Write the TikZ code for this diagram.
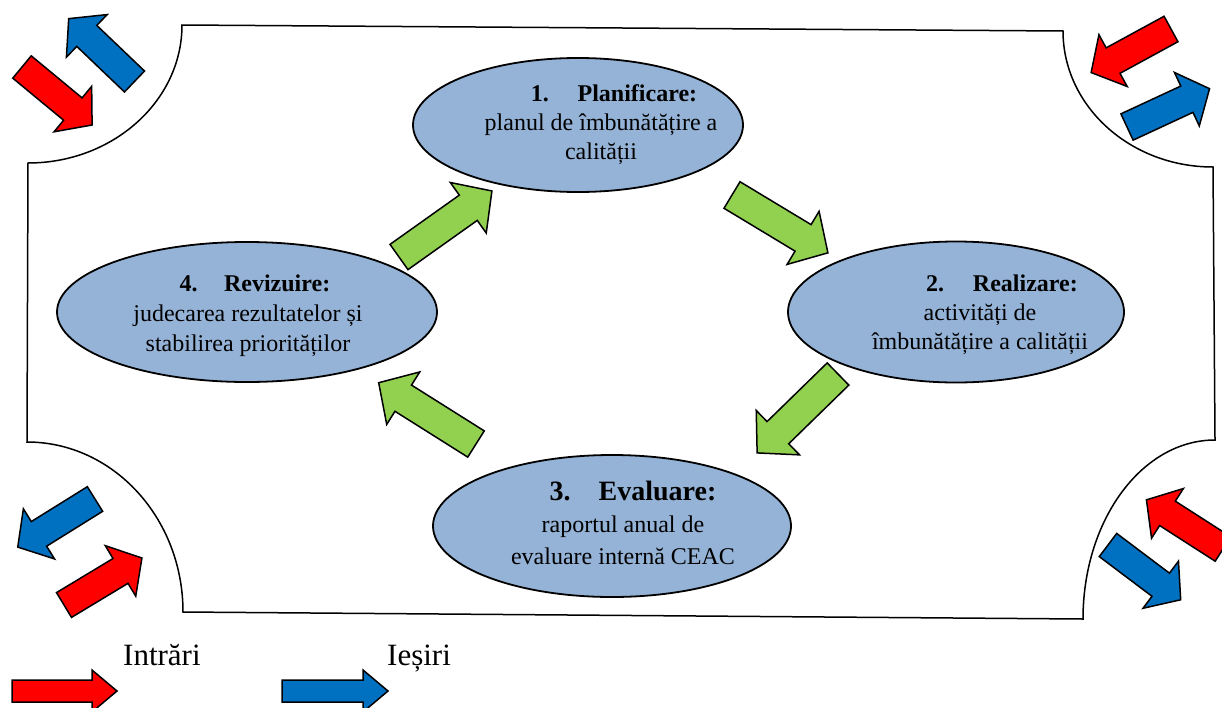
\documentclass[tikz,border=0pt]{standalone}
\usepackage{fontspec}
\setmainfont{Liberation Serif}
\usetikzlibrary{shapes.geometric, calc}
\definecolor{cred}{HTML}{FF0000}
\definecolor{cblue}{HTML}{0070C0}
\definecolor{cgreen}{HTML}{92D050}
\definecolor{cstage}{HTML}{95B3D7}
\tikzset{
  every picture/.style={x=1pt, y=-1pt},
  frame/.style={draw=black, line width=1.5pt},
  stage/.style={ellipse, draw=black, fill=cstage, line width=1.8pt, inner sep=0pt},
  stagetext/.style={align=center, inner sep=0pt, font=\fontsize{24}{29}\selectfont},
  legend/.style={anchor=base west, inner sep=0pt, font=\fontsize{31}{36}\selectfont},
  arrowline/.style={draw=black, line width=1.5pt, line join=miter},
  pics/blockarrow/.style args={#1/#2/#3/#4/#5}{code={
    \draw[arrowline, fill=#1] (0,-#3) -- ({#2-#5},-#3) -- ({#2-#5},-#4) -- (#2,0)
      -- ({#2-#5},#4) -- ({#2-#5},#3) -- (0,#3) -- cycle;
  }},
}

\begin{document}
\begin{tikzpicture}
  \useasboundingbox (0,0) rectangle (1222,707);
  % frame with rounded-in corners
  \draw[frame] (182,25) -- (1063,31)
    .. controls (1063,106) and (1130,167) .. (1213,167) -- (1215,440)
    .. controls (1142,440) and (1083,520) .. (1083,619) -- (183,612)
    .. controls (183,518) and (113,442) .. (27,442) -- (28,163)
    .. controls (113,163) and (182,101) .. (182,25) -- cycle;
  % corner arrows (inputs red, outputs blue)
  \foreach \c/\x/\y/\a in {cred/22/67/-39.6, cblue/134.5/81.5/136.3,
      cred/1171/29/-151.4, cblue/1127/127/24.9, cblue/95/499/-148.1,
      cred/64/605/31.1, cred/1223/549/147.3, cblue/1108/545/-37} {
    \pic[rotate=\a] at (\x,\y) {blockarrow=\c/91/14.5/29.5/25};
  }
  % the four stages
  \node[stage, minimum width=330, minimum height=134] (plan) at (578,125) {};
  \node[stage, minimum width=336, minimum height=141] (real) at (956,312) {};
  \node[stage, minimum width=358, minimum height=142] (eval) at (612,526) {};
  \node[stage, minimum width=380, minimum height=140] (reviz) at (247,312) {};
  \node[stagetext] (plantxt) at ($(plan)+(23,0)$)
    {\hspace*{26pt}\textbf{1.\hspace{1.2em}Planificare:}\\planul de îmbunătățire a\\calității};
  \node[stagetext] (realtxt) at ($(real)+(24,3)$)
    {\hspace*{44pt}\textbf{2.\hspace{1.2em}Realizare:}\\activități de\\îmbunătățire a calității};
  \node[stagetext, font=\fontsize{24}{32}\selectfont] (evaltxt) at ($(eval)+(11,-3)$)
    {\hspace*{20pt}{\fontsize{28}{32}\selectfont\bfseries 3.\hspace{1em}Evaluare:}\\raportul anual de\\evaluare internă CEAC};
  \node[stagetext, font=\fontsize{24}{30}\selectfont] (reviztxt) at ($(reviz)+(1,4)$)
    {\hspace*{14pt}\textbf{4.\hspace{1.1em}Revizuire:}\\judecarea rezultatelor și\\stabilirea priorităților};
  % cycle arrows
  \foreach \x/\y/\a/\l in {399/257/35.4/114, 732/195/-31.1/112,
      838/374/-135.7/113, 476/444/147.8/115} {
    \pic[rotate=\a] at (\x,\y) {blockarrow=cgreen/\l/15.5/31/29};
  }
  % legend
  \pic at (12,691) {blockarrow=cred/105/11/21/25};
  \pic at (282,691) {blockarrow=cblue/106/11/21/25};
  \node[legend] (inlabel) at (123,665) {Intrări};
  \node[legend] (outlabel) at (387,665) {Ieșiri};
\end{tikzpicture}
\end{document}
